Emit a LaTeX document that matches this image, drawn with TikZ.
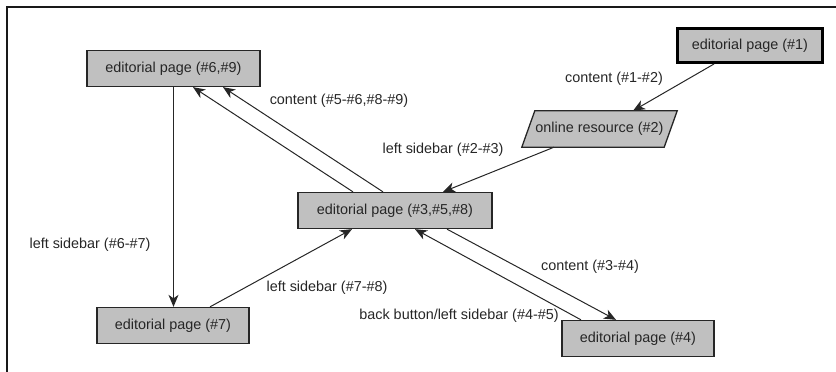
\documentclass[tikz,border=0pt]{standalone}
\usepackage{fontspec}
\setmainfont{Liberation Sans}
\usetikzlibrary{arrows.meta}
\definecolor{boxgray}{RGB}{192,192,192}
\begin{document}
\begin{tikzpicture}[x=1pt,y=-1pt,
  every node/.style={font=\fontsize{14.4}{17}\selectfont, text=black!85},
  pagebox/.style={draw=black!85, fill=boxgray, line width=1.3pt, rectangle, inner sep=0pt,
    minimum height=#1},
  pagebox/.default=36pt,
  lbl/.style={inner sep=1pt},
  conn/.style={draw=black!85, line width=1pt, -{Stealth[length=12pt,width=10pt,inset=3.5pt]}}
]
\useasboundingbox (0,0) rectangle (836,372);
% frame (partial)
\coordinate (fa) at (7,372);
\coordinate (fb) at (7,7);
\coordinate (fc) at (836,7);
\draw[line width=1.5pt, black!90] (fa) -- (fb) -- (fc);

% nodes
\node[pagebox, minimum width=173pt] (n69) at (173.5,68.5) {editorial page (\#6,\#9)};
\node[pagebox, minimum width=145pt, minimum height=34pt, line width=3pt, draw=black] (n1) at (750,45.5) {editorial page (\#1)};
\node[inner sep=0pt, minimum width=142pt, minimum height=36pt] (n2) at (599.5,129) {online resource (\#2)};
\filldraw[draw=black!85, fill=boxgray, line width=1.3pt]
  ([xshift=-6.5pt]n2.south west) -- ([xshift=6.5pt]n2.north west) --
  ([xshift=6.5pt]n2.north east) -- ([xshift=-6.5pt]n2.south east) -- cycle;
\node[inner sep=0pt] at (n2) {online resource (\#2)};
\node[pagebox, minimum width=194pt] (n358) at (395,210.5) {editorial page (\#3,\#5,\#8)};
\node[pagebox, minimum width=152pt] (n7) at (173,325.5) {editorial page (\#7)};
\node[pagebox, minimum width=152pt] (n4) at (638,338.5) {editorial page (\#4)};

% connectors
\draw[conn] ([xshift=-36pt]n1.south) -- ([xshift=33.5pt]n2.north);
\draw[conn] ([xshift=-45.5pt]n2.south) -- ([xshift=48pt]n358.north);
\draw[conn] ([xshift=-42pt]n358.north) -- ([xshift=19.5pt]n69.south);
\draw[conn] ([xshift=-12pt]n358.north) -- ([xshift=49.5pt]n69.south);
\draw[conn] (n69.south) -- (n69.south |- n7.north);
\draw[conn] ([xshift=37pt]n7.north) -- ([xshift=-43pt]n358.south);
\draw[conn] ([xshift=52pt]n358.south) -- ([xshift=-22pt]n4.north);
\draw[conn] ([xshift=-57pt]n4.north) -- ([xshift=20pt]n358.south);

% labels
\node[lbl] (l1) at (339,101) {content (\#5-\#6,\#8-\#9)};
\node[lbl] (l2) at (443,150) {left sidebar (\#2-\#3)};
\node[lbl] (l3) at (614,79) {content (\#1-\#2)};
\node[lbl] (l4) at (90,245) {left sidebar (\#6-\#7)};
\node[lbl] (l5) at (327,288) {left sidebar (\#7-\#8)};
\node[lbl] (l6) at (590,267) {content (\#3-\#4)};
\node[lbl] (l7) at (459,316) {back button/left sidebar (\#4-\#5)};
\end{tikzpicture}
\end{document}
